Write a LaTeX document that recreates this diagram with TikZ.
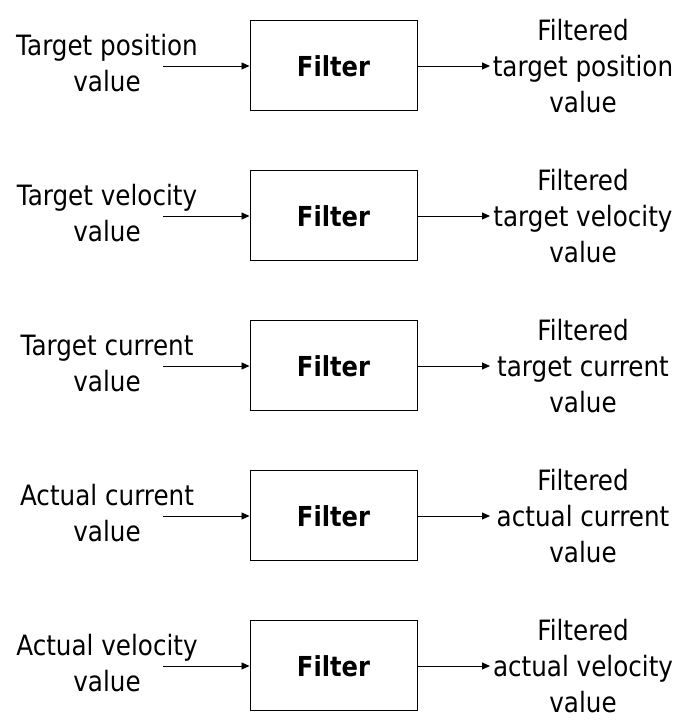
\documentclass[tikz,border=0pt]{standalone}
\usepackage{fontspec}
\setmainfont{DejaVu Sans}[FakeStretch=0.88]
\usetikzlibrary{arrows.meta}
\begin{document}
\begin{tikzpicture}[x=1pt,y=1pt,
  filterbox/.style={draw,line width=1pt,minimum width=167pt,minimum height=90pt,inner sep=0pt,font=\fontsize{27.5}{30}\selectfont\bfseries},
  lbl/.style={align=center,inner sep=0pt,font=\fontsize{28}{36}\selectfont},
  conn/.style={line width=0.9pt,-{Triangle[length=8pt,width=7pt]}}]
\useasboundingbox (0,0) rectangle (680,720);
\foreach \i/\inA/\inB/\outB in {
  0/Target position/value/target position,
  1/Target velocity/value/target velocity,
  2/Target current/value/target current,
  3/Actual current/value/actual current,
  4/Actual velocity/value/actual velocity}{
  \pgfmathsetmacro{\yc}{720-66-150*\i}
  \node[filterbox] (f\i) at (333.5,\yc) {Filter};
  \node[lbl] (in\i) at (107,\yc+3) {\inA\\\inB};
  \node[lbl] (out\i) at (583,\yc) {Filtered\\\outB\\value};
  \coordinate (s\i) at (163,\yc);
  \coordinate (e\i) at (490,\yc);
  \draw[conn] (s\i) -- (f\i.west);
  \draw[conn] (f\i.east) -- (e\i);
}
\end{tikzpicture}
\end{document}
